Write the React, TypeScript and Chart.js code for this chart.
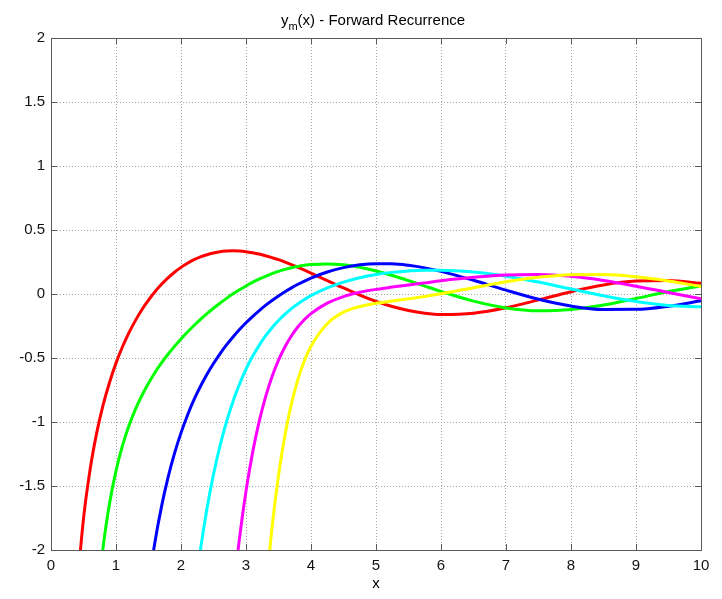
import React, { useEffect, useRef } from "react";
import { Chart, registerables } from "chart.js";

Chart.register(...registerables);

// ---------- data ----------
const xValues = [
  0.4, 0.5, 0.6, 0.7, 0.8, 0.9, 1.0, 1.1, 1.2, 1.3, 1.4, 1.5, 1.6, 1.7, 1.8, 1.9, 2.0, 2.1, 2.2, 2.3,
  2.4, 2.5, 2.6, 2.7, 2.8, 2.9, 3.0, 3.1, 3.2, 3.3, 3.4, 3.5, 3.6, 3.7, 3.8, 3.9, 4.0,
  4.25, 4.5, 4.75, 5.0, 5.25, 5.5, 5.75, 6.0,
  6.5, 7.0, 7.5, 8.0, 8.5, 9.0, 9.5, 10.0,
];

const seriesRed = [
  -2.303, -1.755, -1.376, -1.093, -0.871, -0.691, -0.54, -0.412, -0.302, -0.206, -0.121, -0.047, 0.018, 0.076, 0.126, 0.17, 0.208, 0.24, 0.268, 0.29,
  0.307, 0.32, 0.33, 0.335, 0.337, 0.335, 0.33, 0.322, 0.312, 0.299, 0.284, 0.268, 0.249, 0.229, 0.208, 0.186, 0.163,
  0.105, 0.047, -0.008, -0.057, -0.098, -0.129, -0.15, -0.16,
  -0.15, -0.108, -0.046, 0.018, 0.071, 0.101, 0.105, 0.084,
];

const seriesGreen = [
  null, null, null, -2.481, -1.985, -1.638, -1.382, -1.185, -1.028, -0.9, -0.791, -0.697, -0.613, -0.539, -0.471, -0.409, -0.351, -0.297, -0.246, -0.198,
  -0.153, -0.111, -0.072, -0.034, 0.001, 0.033, 0.063, 0.091, 0.116, 0.138, 0.159, 0.177, 0.192, 0.205, 0.216, 0.224, 0.23,
  0.235, 0.228, 0.209, 0.18, 0.145, 0.105, 0.062, 0.02,
  -0.056, -0.109, -0.131, -0.121, -0.086, -0.035, 0.019, 0.063,
];

const seriesBlue = [
  null, null, null, null, null, null, null, null, null, null, null, -2.275, -1.935, -1.661, -1.434, -1.245, -1.085, -0.947, -0.826, -0.721,
  -0.627, -0.543, -0.467, -0.398, -0.336, -0.278, -0.225, -0.176, -0.131, -0.089, -0.051, -0.015, 0.018, 0.048, 0.076, 0.101, 0.124,
  0.172, 0.206, 0.228, 0.237, 0.236, 0.224, 0.204, 0.177,
  0.107, 0.03, -0.041, -0.094, -0.121, -0.12, -0.095, -0.053,
];

const seriesCyan = [
  null, null, null, null, null, null, null, null, null, null, null, null, null, null, null, null, null, null, -2.384, -1.995,
  -1.675, -1.409, -1.186, -0.998, -0.839, -0.704, -0.588, -0.489, -0.403, -0.328, -0.263, -0.207, -0.158, -0.114, -0.076, -0.043, -0.013,
  0.047, 0.093, 0.127, 0.152, 0.169, 0.18, 0.186, 0.186,
  0.171, 0.139, 0.093, 0.039, -0.014, -0.059, -0.089, -0.1,
];

const seriesMagenta = [
  null, null, null, null, null, null, null, null, null, null, null, null, null, null, null, null, null, null, null, null,
  null, null, null, null, -2.362, -1.907, -1.54, -1.243, -1.001, -0.805, -0.646, -0.517, -0.412, -0.326, -0.256, -0.199, -0.153,
  -0.071, -0.02, 0.013, 0.036, 0.054, 0.071, 0.087, 0.103,
  0.13, 0.149, 0.153, 0.138, 0.106, 0.061, 0.011, -0.037,
];

const seriesYellow = [
  null, null, null, null, null, null, null, null, null, null, null, null, null, null, null, null, null, null, null, null,
  null, null, null, null, null, null, null, null, null, -2.357, -1.828, -1.419, -1.101, -0.855, -0.666, -0.519, -0.408,
  -0.232, -0.142, -0.098, -0.073, -0.055, -0.038, -0.019, 0.002,
  0.049, 0.095, 0.131, 0.151, 0.152, 0.134, 0.101, 0.059,
];

const xTicks = [0, 1, 2, 3, 4, 5, 6, 7, 8, 9, 10];
const yTicks = [-2, -1.5, -1, -0.5, 0, 0.5, 1, 1.5, 2];
const titleMain = "y";
const titleSub = "m";
const titleRest = "(x) - Forward Recurrence";
const xLabel = "x";

const FONT = "'Liberation Sans', Arial, Helvetica, sans-serif";

const seriesList = [
  { name: "m0", values: seriesRed, color: "#ff0000" },
  { name: "m1", values: seriesGreen, color: "#00ff00" },
  { name: "m2", values: seriesBlue, color: "#0000ff" },
  { name: "m3", values: seriesCyan, color: "#00ffff" },
  { name: "m4", values: seriesMagenta, color: "#ff00ff" },
  { name: "m5", values: seriesYellow, color: "#ffff00" },
];

const framePlugin = {
  id: "matlabFrame",
  afterDraw(chart: any) {
    const { ctx, chartArea: a, scales } = chart;
    const xs = scales.x;
    const ys = scales.y;
    ctx.save();
    ctx.strokeStyle = "#5a5a5a";
    ctx.lineWidth = 1;
    const tl = 6;
    ctx.beginPath();
    for (const v of xTicks) {
      const px = Math.round(xs.getPixelForValue(v)) + 0.5;
      ctx.moveTo(px, a.bottom);
      ctx.lineTo(px, a.bottom - tl);
      ctx.moveTo(px, a.top);
      ctx.lineTo(px, a.top + tl);
    }
    for (const v of yTicks) {
      const py = Math.round(ys.getPixelForValue(v)) + 0.5;
      ctx.moveTo(a.left, py);
      ctx.lineTo(a.left + tl, py);
      ctx.moveTo(a.right, py);
      ctx.lineTo(a.right - tl, py);
    }
    ctx.stroke();
    ctx.strokeRect(Math.round(a.left) + 0.5, Math.round(a.top) + 0.5, Math.round(a.right - a.left), Math.round(a.bottom - a.top));

    // title with subscript
    ctx.fillStyle = "#000";
    ctx.textBaseline = "alphabetic";
    ctx.textAlign = "left";
    const mainFont = `15px ${FONT}`;
    const subFont = `11px ${FONT}`;
    ctx.font = mainFont;
    const w1 = ctx.measureText(titleMain).width;
    const w3 = ctx.measureText(titleRest).width;
    ctx.font = subFont;
    const w2 = ctx.measureText(titleSub).width;
    const total = w1 + w2 + w3;
    const cx = (a.left + a.right) / 2;
    const x0 = cx - total / 2 - 3;
    const base = 25;
    ctx.font = mainFont;
    ctx.fillText(titleMain, x0, base);
    ctx.font = subFont;
    ctx.fillText(titleSub, x0 + w1, base + 5);
    ctx.font = mainFont;
    ctx.fillText(titleRest, x0 + w1 + w2, base);

    // x axis label
    ctx.textAlign = "center";
    ctx.fillText(xLabel, cx, 588);
    ctx.restore();
  },
};

export default function App() {
  const canvasRef = useRef<HTMLCanvasElement | null>(null);

  useEffect(() => {
    const canvas = canvasRef.current;
    if (!canvas) return;
    const datasets = seriesList.map((s, i) => ({
      label: s.name,
      data: xValues.map((x, k) => ({ x, y: s.values[k] })),
      borderColor: s.color,
      backgroundColor: s.color,
      borderWidth: 3,
      pointRadius: 0,
      pointHoverRadius: 0,
      fill: false,
      cubicInterpolationMode: "monotone" as const,
      spanGaps: false,
      clip: 0,
      order: seriesList.length - i,
    }));

    const chart = new Chart(canvas, {
      type: "line",
      data: { datasets },
      plugins: [framePlugin],
      options: {
        animation: false,
        responsive: false,
        maintainAspectRatio: false,
        layout: { padding: { left: 0, right: 21, top: 38, bottom: 0 } },
        plugins: {
          legend: { display: false },
          title: { display: false },
          tooltip: { enabled: false },
        },
        scales: {
          x: {
            type: "linear",
            min: 0,
            max: 10,
            afterBuildTicks: (scale: any) => {
              scale.ticks = xTicks.map((v) => ({ value: v }));
            },
            afterFit: (scale: any) => {
              scale.height = 49;
            },
            grid: { color: "#a8a8a8", lineWidth: 1, drawTicks: false },
            border: { display: false, dash: [1, 2] },
            ticks: {
              padding: 7,
              color: "#111",
              font: { family: FONT, size: 15 },
              maxRotation: 0,
              autoSkip: false,
              callback: (v: any) => String(v),
            },
          },
          y: {
            type: "linear",
            min: -2,
            max: 2,
            afterBuildTicks: (scale: any) => {
              scale.ticks = yTicks.map((v) => ({ value: v }));
            },
            afterFit: (scale: any) => {
              scale.width = 51;
            },
            grid: { color: "#a8a8a8", lineWidth: 1, drawTicks: false },
            border: { display: false, dash: [1, 2] },
            ticks: {
              padding: 6,
              color: "#111",
              font: { family: FONT, size: 15 },
              autoSkip: false,
              callback: (v: any) => String(v),
            },
          },
        },
      },
    });
    return () => chart.destroy();
  }, []);

  return (
    <div style={{ position: "absolute", left: 0, top: 0, width: 722, height: 599, background: "#fff" }}>
      <canvas ref={canvasRef} width={722} height={599} style={{ display: "block" }} />
    </div>
  );
}
